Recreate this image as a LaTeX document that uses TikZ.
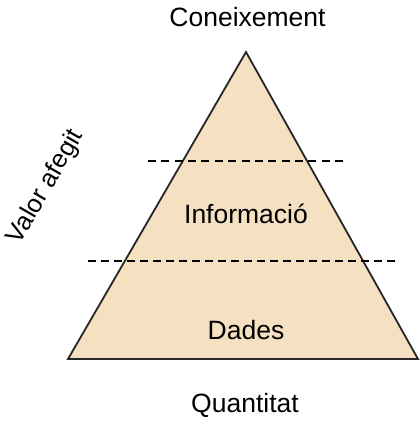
\documentclass[tikz,border=0pt]{standalone}
\usepackage{fontspec}
\setmainfont{Liberation Sans}
\definecolor{pyramidfill}{RGB}{245,224,194}
\begin{document}
\begin{tikzpicture}[x=1pt,y=-1pt,
  label text/.style={font=\fontsize{26.5}{31}\selectfont, anchor=base, inner sep=0pt},
  level line/.style={dashed, dash pattern=on 8pt off #1, line width=1.5pt},
  pyramid/.style={fill=pyramidfill, draw=black!85, line width=1.8pt, line join=miter}]
  \useasboundingbox (0,0) rectangle (420,423);
  % pyramid corners
  \coordinate (apex) at (246,52);
  \coordinate (bl) at (68,359);
  \coordinate (br) at (418,359);
  \draw[pyramid] (apex) -- (br) -- (bl) -- cycle;
  % level separators (gaps chosen so both ends finish on a dash)
  \coordinate (l1a) at (148,161);
  \coordinate (l1b) at (343,161);
  \coordinate (l2a) at (88,261);
  \coordinate (l2b) at (395,261);
  \draw[level line=5.36pt] (l1a) -- (l1b);
  \draw[level line=5pt] (l2a) -- (l2b);
  % labels
  \node[label text] (top) at (247.5,27) {Coneixement};
  \node[label text] (info) at (246,223) {Informació};
  \node[label text] (data) at (246,339) {Dades};
  \node[label text] (bottom) at (245,412) {Quantitat};
  \node[font=\fontsize{25.5}{30}\selectfont, rotate=60, inner sep=0pt] (value) at (46,187) {Valor afegit};
\end{tikzpicture}
\end{document}
